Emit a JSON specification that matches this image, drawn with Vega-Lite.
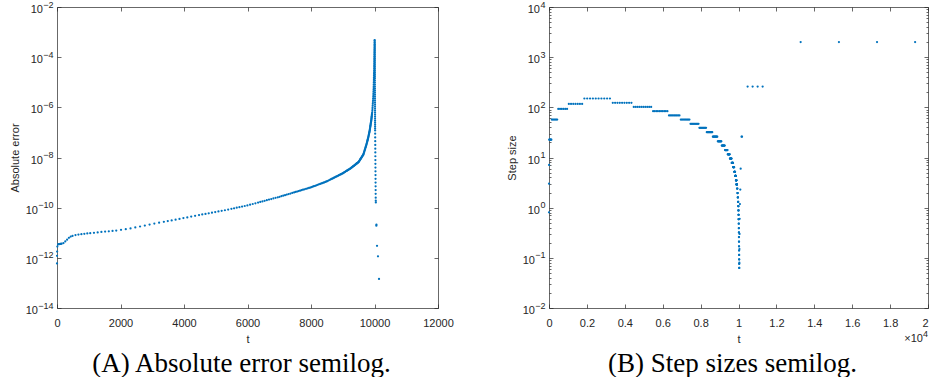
{
"$schema":"https://vega.github.io/schema/vega-lite/v6.json",
"padding":{"left":9,"top":0,"right":0,"bottom":0},
"spacing":111,
"bounds":"flush",
"config":{
 "view":{"stroke":null},
 "axis":{"labelFont":"Liberation Sans","labelFontSize":11,"labelColor":"#262626","labelFlush":false,"labelOverlap":false,"titleFont":"Liberation Sans","titleFontSize":11,"titleFontWeight":"normal","titleColor":"#262626","domainColor":"#262626","domainWidth":0.7,"tickColor":"#262626","tickWidth":0.7,"tickSize":-4,"grid":false,"labelPadding":8}
},
"datasets":{"sim":[
{"t":0,"h":0.81,"e":6.0e-13},{"t":0.81,"h":3.0,"e":1.2e-12},{"t":3.8,"h":7.1,"e":1.78e-12},{"t":10.9,"h":22.7,"e":2.8e-12},{"t":33.6,"h":22.7,"e":3.47e-12},{"t":56.3,"h":22.7,"e":3.5e-12},{"t":79,"h":22.7,"e":3.55e-12},{"t":101.7,"h":22.7,"e":3.57e-12},{"t":124.4,"h":22.7,"e":3.61e-12},
{"t":147,"h":57,"e":3.65e-12},{"t":204,"h":57,"e":3.86e-12},{"t":261,"h":57,"e":4.5e-12},{"t":318,"h":57,"e":5.32e-12},{"t":375,"h":57,"e":6.25e-12},{"t":432,"h":57,"e":7.08e-12},
{"t":489,"h":93,"e":7.48e-12},{"t":582,"h":93,"e":8.09e-12},{"t":675,"h":93,"e":8.49e-12},{"t":768,"h":93,"e":8.77e-12},{"t":861,"h":93,"e":9.08e-12},{"t":954,"h":93,"e":9.35e-12},
{"t":1047,"h":117,"e":9.62e-12},{"t":1164,"h":117,"e":9.95e-12},{"t":1281,"h":117,"e":1.033e-11},{"t":1398,"h":117,"e":1.072e-11},{"t":1515,"h":117,"e":1.11e-11},{"t":1632,"h":117,"e":1.146e-11},{"t":1749,"h":117,"e":1.18e-11},
{"t":1866,"h":150,"e":1.227e-11},{"t":2016,"h":150,"e":1.306e-11},{"t":2166,"h":150,"e":1.39e-11},{"t":2316,"h":150,"e":1.493e-11},{"t":2466,"h":150,"e":1.63e-11},{"t":2616,"h":150,"e":1.775e-11},{"t":2766,"h":150,"e":1.936e-11},{"t":2916,"h":150,"e":2.118e-11},{"t":3066,"h":150,"e":2.317e-11},{"t":3216,"h":150,"e":2.523e-11},
{"t":3366,"h":123,"e":2.73e-11},{"t":3489,"h":123,"e":2.917e-11},{"t":3612,"h":123,"e":3.11e-11},{"t":3735,"h":123,"e":3.327e-11},{"t":3858,"h":123,"e":3.565e-11},{"t":3981,"h":123,"e":3.83e-11},{"t":4104,"h":123,"e":4.1e-11},{"t":4227,"h":123,"e":4.395e-11},{"t":4350,"h":123,"e":4.71e-11},
{"t":4473,"h":102,"e":5.05e-11},{"t":4575,"h":102,"e":5.35e-11},{"t":4677,"h":102,"e":5.65e-11},{"t":4779,"h":102,"e":5.97e-11},{"t":4881,"h":102,"e":6.31e-11},{"t":4983,"h":102,"e":6.68e-11},{"t":5085,"h":102,"e":7.06e-11},{"t":5187,"h":102,"e":7.46e-11},{"t":5289,"h":102,"e":7.89e-11},{"t":5391,"h":102,"e":8.41e-11},
{"t":5493,"h":84,"e":8.96e-11},{"t":5577,"h":84,"e":9.44e-11},{"t":5661,"h":84,"e":9.95e-11},{"t":5745,"h":84,"e":1.049e-10},{"t":5829,"h":84,"e":1.106e-10},{"t":5913,"h":84,"e":1.165e-10},{"t":5997,"h":84,"e":1.227e-10},{"t":6081,"h":84,"e":1.312e-10},{"t":6165,"h":84,"e":1.4e-10},{"t":6249,"h":84,"e":1.496e-10},
{"t":6333,"h":69,"e":1.596e-10},{"t":6402,"h":69,"e":1.686e-10},{"t":6471,"h":69,"e":1.778e-10},{"t":6540,"h":69,"e":1.879e-10},{"t":6609,"h":69,"e":1.982e-10},{"t":6678,"h":69,"e":2.094e-10},{"t":6747,"h":69,"e":2.208e-10},{"t":6816,"h":69,"e":2.33e-10},{"t":6885,"h":69,"e":2.46e-10},
{"t":6954,"h":57,"e":2.594e-10},{"t":7011,"h":57,"e":2.716e-10},{"t":7068,"h":57,"e":2.858e-10},{"t":7125,"h":57,"e":3.0e-10},{"t":7182,"h":57,"e":3.155e-10},{"t":7239,"h":57,"e":3.32e-10},{"t":7296,"h":57,"e":3.48e-10},{"t":7353,"h":57,"e":3.66e-10},{"t":7410,"h":57,"e":3.85e-10},
{"t":7467,"h":47,"e":4.05e-10},{"t":7514,"h":47,"e":4.22e-10},{"t":7561,"h":47,"e":4.4e-10},{"t":7608,"h":47,"e":4.58e-10},{"t":7655,"h":47,"e":4.77e-10},{"t":7702,"h":47,"e":4.98e-10},{"t":7749,"h":47,"e":5.19e-10},{"t":7796,"h":47,"e":5.4e-10},{"t":7843,"h":47,"e":5.62e-10},{"t":7890,"h":47,"e":5.86e-10},
{"t":7937,"h":39,"e":6.11e-10},{"t":7976,"h":39,"e":6.32e-10},{"t":8015,"h":39,"e":6.56e-10},{"t":8054,"h":39,"e":6.85e-10},{"t":8093,"h":39,"e":7.16e-10},{"t":8132,"h":39,"e":7.47e-10},{"t":8171,"h":39,"e":7.8e-10},{"t":8210,"h":39,"e":8.15e-10},{"t":8249,"h":39,"e":8.51e-10},{"t":8288,"h":39,"e":8.87e-10},
{"t":8327,"h":32,"e":9.27e-10},{"t":8359,"h":32,"e":9.6e-10},{"t":8391,"h":32,"e":9.95e-10},{"t":8423,"h":32,"e":1.03e-9},{"t":8455,"h":32,"e":1.067e-9},{"t":8487,"h":32,"e":1.107e-9},{"t":8519,"h":32,"e":1.153e-9},{"t":8551,"h":32,"e":1.21e-9},{"t":8583,"h":32,"e":1.268e-9},{"t":8615,"h":32,"e":1.33e-9},
{"t":8647,"h":26,"e":1.393e-9},{"t":8673,"h":26,"e":1.449e-9},{"t":8699,"h":26,"e":1.504e-9},{"t":8725,"h":26,"e":1.563e-9},{"t":8751,"h":26,"e":1.625e-9},{"t":8777,"h":26,"e":1.687e-9},{"t":8803,"h":26,"e":1.754e-9},{"t":8829,"h":26,"e":1.824e-9},{"t":8855,"h":26,"e":1.892e-9},{"t":8881,"h":26,"e":1.968e-9},
{"t":8907,"h":21,"e":2.042e-9},{"t":8928,"h":21,"e":2.109e-9},{"t":8949,"h":21,"e":2.173e-9},{"t":8970,"h":21,"e":2.244e-9},{"t":8991,"h":21,"e":2.312e-9},{"t":9012,"h":21,"e":2.4e-9},{"t":9033,"h":21,"e":2.49e-9},{"t":9054,"h":21,"e":2.59e-9},{"t":9075,"h":21,"e":2.69e-9},{"t":9096,"h":21,"e":2.8e-9},
{"t":9117,"h":17.3,"e":2.91e-9},{"t":9134,"h":17.3,"e":3.0e-9},{"t":9151,"h":17.3,"e":3.1e-9},{"t":9169,"h":17.3,"e":3.2e-9},{"t":9186,"h":17.3,"e":3.3e-9},{"t":9203,"h":17.3,"e":3.4e-9},{"t":9221,"h":17.3,"e":3.52e-9},{"t":9238,"h":17.3,"e":3.63e-9},{"t":9255,"h":17.3,"e":3.76e-9},{"t":9273,"h":17.3,"e":3.92e-9},
{"t":9290,"h":14.1,"e":4.07e-9},{"t":9304,"h":14.1,"e":4.21e-9},{"t":9318,"h":14.1,"e":4.35e-9},{"t":9332,"h":14.1,"e":4.49e-9},{"t":9346,"h":14.1,"e":4.63e-9},{"t":9360,"h":14.1,"e":4.79e-9},{"t":9375,"h":14.1,"e":4.95e-9},{"t":9389,"h":14.1,"e":5.12e-9},{"t":9403,"h":14.1,"e":5.28e-9},{"t":9417,"h":14.1,"e":5.46e-9},
{"t":9431,"h":11.6,"e":5.64e-9},{"t":9443,"h":11.6,"e":5.79e-9},{"t":9454,"h":11.6,"e":5.94e-9},{"t":9466,"h":11.6,"e":6.11e-9},{"t":9477,"h":11.6,"e":6.27e-9},{"t":9489,"h":11.6,"e":6.44e-9},{"t":9501,"h":11.6,"e":6.64e-9},{"t":9512,"h":11.6,"e":6.98e-9},{"t":9524,"h":11.6,"e":7.38e-9},{"t":9535,"h":11.6,"e":7.76e-9},
{"t":9547,"h":9.5,"e":8.2e-9},{"t":9556,"h":9.5,"e":8.55e-9},{"t":9566,"h":9.5,"e":8.95e-9},{"t":9575,"h":9.5,"e":9.33e-9},{"t":9585,"h":9.5,"e":9.77e-9},{"t":9594,"h":9.5,"e":1.019e-8},{"t":9604,"h":9.5,"e":1.067e-8},{"t":9613,"h":9.5,"e":1.112e-8},{"t":9623,"h":9.5,"e":1.164e-8},{"t":9632,"h":9.5,"e":1.213e-8},
{"t":9642,"h":7.8,"e":1.27e-8},{"t":9650,"h":7.8,"e":1.318e-8},{"t":9657,"h":7.8,"e":1.41e-8},{"t":9665,"h":7.8,"e":1.517e-8},{"t":9673,"h":7.8,"e":1.637e-8},{"t":9681,"h":7.8,"e":1.766e-8},{"t":9689,"h":7.8,"e":1.905e-8},{"t":9696,"h":7.8,"e":2.03e-8},{"t":9704,"h":7.8,"e":2.19e-8},{"t":9712,"h":7.8,"e":2.37e-8},
{"t":9720,"h":6.4,"e":2.55e-8},{"t":9726,"h":6.4,"e":2.7e-8},{"t":9733,"h":6.4,"e":2.88e-8},{"t":9739,"h":6.4,"e":3.05e-8},{"t":9746,"h":6.4,"e":3.27e-8},{"t":9752,"h":6.4,"e":3.5e-8},{"t":9758,"h":6.4,"e":3.75e-8},{"t":9765,"h":6.4,"e":4.06e-8},{"t":9771,"h":6.4,"e":4.35e-8},
{"t":9778,"h":5.2,"e":4.7e-8},{"t":9783,"h":5.2,"e":4.98e-8},{"t":9788,"h":5.2,"e":5.26e-8},{"t":9794,"h":5.2,"e":5.64e-8},{"t":9799,"h":5.2,"e":5.96e-8},{"t":9804,"h":5.2,"e":6.37e-8},{"t":9809,"h":5.2,"e":6.83e-8},{"t":9814,"h":5.2,"e":7.32e-8},{"t":9820,"h":5.2,"e":7.96e-8},
{"t":9825,"h":4.3,"e":8.53e-8},{"t":9829,"h":4.3,"e":9.02e-8},{"t":9834,"h":4.3,"e":9.66e-8},{"t":9838,"h":4.3,"e":1.023e-7},{"t":9842,"h":4.3,"e":1.081e-7},{"t":9847,"h":4.3,"e":1.159e-7},{"t":9851,"h":4.3,"e":1.245e-7},{"t":9855,"h":4.3,"e":1.343e-7},{"t":9859,"h":4.3,"e":1.449e-7},
{"t":9864,"h":3.5,"e":1.592e-7},{"t":9867,"h":3.5,"e":1.687e-7},{"t":9871,"h":3.5,"e":1.82e-7},{"t":9874,"h":3.5,"e":1.928e-7},{"t":9878,"h":3.5,"e":2.08e-7},{"t":9881,"h":3.5,"e":2.2e-7},{"t":9885,"h":3.5,"e":2.38e-7},{"t":9888,"h":3.5,"e":2.52e-7},{"t":9892,"h":3.5,"e":2.72e-7},
{"t":9895,"h":2.9,"e":2.88e-7},{"t":9898,"h":2.9,"e":3.04e-7},{"t":9901,"h":2.9,"e":3.24e-7},{"t":9904,"h":2.9,"e":3.51e-7},{"t":9907,"h":2.9,"e":3.79e-7},{"t":9910,"h":2.9,"e":4.09e-7},{"t":9912,"h":2.9,"e":4.31e-7},{"t":9915,"h":2.9,"e":4.67e-7},{"t":9918,"h":2.9,"e":5.04e-7},
{"t":9921,"h":2.4},{"t":9932,"h":2.4},{"t":9942,"h":2.4},{"t":9943,"h":1.95},{"t":9951,"h":1.95},{"t":9959,"h":1.95},{"t":9961,"h":1.6},{"t":9967,"h":1.6},{"t":9973,"h":1.6},{"t":9975,"h":1.3},{"t":9980,"h":1.3},{"t":9985,"h":1.3},{"t":9986,"h":1.07},{"t":9990,"h":1.07},{"t":9994,"h":1.07},{"t":9995,"h":0.88},{"t":9998,"h":0.88},{"t":10002,"h":0.88},{"t":10003,"h":0.72},{"t":10005,"h":0.72},{"t":10008,"h":0.72},{"t":10009,"h":0.59},{"t":10011,"h":0.59},{"t":10013,"h":0.59},{"t":10014,"h":0.48},{"t":10016,"h":0.48},{"t":10018,"h":0.39},{"t":10020,"h":0.39},{"t":10022,"h":0.32},{"t":10023,"h":0.32},{"t":10024,"h":0.26},{"t":10025,"h":0.26},{"t":10026,"h":0.21},{"t":10027,"h":0.21},{"t":10028,"h":0.17},{"t":10029,"h":0.17},{"t":10030,"h":0.14},{"t":10031,"h":0.14},{"t":10032,"h":0.114},{"t":10033,"h":0.114},{"t":10034,"h":0.093},{"t":10035,"h":0.093},{"t":10036,"h":0.076},{"t":10037,"h":0.076},{"t":10038,"h":0.063},{"t":10039,"h":0.063},
{"t":10045,"h":0.08},{"t":10050,"h":0.15},{"t":10055,"h":0.3},{"t":10062,"h":0.6},{"t":10075,"h":1.18},{"t":10095,"h":2.3},{"t":10115,"h":6.0},{"t":10160,"h":26},{"t":10186,"h":26},
{"t":10481,"h":260},{"t":10745,"h":260},{"t":11010,"h":260},{"t":11274,"h":260},
{"t":13280,"h":2000},{"t":15300,"h":2000},{"t":17310,"h":2000},{"t":19320,"h":2000},
{"t":9921,"e":5.45e-7},{"t":9926,"e":6.19e-7},{"t":9932,"e":7.24e-7},{"t":9935.6,"e":8.51e-7},{"t":9939.3,"e":1.0e-6},{"t":9942.9,"e":1.175e-6},{"t":9946.5,"e":1.38e-6},{"t":9950.1,"e":1.622e-6},{"t":9953.8,"e":1.905e-6},{"t":9957.4,"e":2.239e-6},{"t":9960.7,"e":2.63e-6},{"t":9963.2,"e":3.09e-6},{"t":9965.6,"e":3.63e-6},{"t":9968.1,"e":4.27e-6},{"t":9970.5,"e":5.01e-6},{"t":9973,"e":5.89e-6},{"t":9974.9,"e":6.92e-6},{"t":9976.5,"e":8.13e-6},{"t":9978.1,"e":9.55e-6},{"t":9979.7,"e":1.122e-5},{"t":9981.3,"e":1.318e-5},{"t":9982.9,"e":1.549e-5},{"t":9984.5,"e":1.82e-5},{"t":9986.1,"e":2.138e-5},{"t":9987.7,"e":2.512e-5},{"t":9989.3,"e":2.951e-5},{"t":9990.5,"e":3.467e-5},{"t":9991.4,"e":4.07e-5},{"t":9992.3,"e":4.79e-5},{"t":9993.1,"e":5.62e-5},{"t":9994,"e":6.61e-5},{"t":9994.9,"e":7.76e-5},{"t":9995.8,"e":9.12e-5},{"t":9996.6,"e":1.072e-4},{"t":9997.5,"e":1.259e-4},{"t":9998.4,"e":1.479e-4},{"t":9999.3,"e":1.738e-4},{"t":10000.1,"e":2.04e-4},{"t":10001,"e":2.4e-4},{"t":10002,"e":2.82e-4},{"t":10002.9,"e":3.31e-4},{"t":10003.8,"e":3.89e-4},{"t":10004.7,"e":4.57e-4},{"t":10005,"e":4.79e-4},
{"t":10008,"e":3.98e-4},{"t":10008.3,"e":3.31e-4},{"t":10008.5,"e":2.75e-4},{"t":10008.8,"e":2.29e-4},{"t":10009.1,"e":1.905e-4},{"t":10009.4,"e":1.585e-4},{"t":10009.6,"e":1.318e-4},{"t":10009.9,"e":1.096e-4},{"t":10010.2,"e":9.12e-5},{"t":10010.4,"e":7.59e-5},{"t":10010.7,"e":6.31e-5},{"t":10011,"e":5.25e-5},{"t":10011.2,"e":4.37e-5},{"t":10011.5,"e":3.63e-5},{"t":10011.8,"e":3.02e-5},{"t":10012.1,"e":2.51e-5},{"t":10012.3,"e":2.09e-5},{"t":10012.6,"e":1.74e-5},{"t":10012.9,"e":1.445e-5},{"t":10013.1,"e":1.202e-5},{"t":10013.4,"e":1.0e-5},{"t":10013.7,"e":8.32e-6},{"t":10013.9,"e":6.92e-6},{"t":10014.2,"e":5.75e-6},{"t":10014.5,"e":4.79e-6},{"t":10014.8,"e":3.98e-6},{"t":10015,"e":3.31e-6},{"t":10015.3,"e":2.75e-6},{"t":10015.6,"e":2.29e-6},{"t":10015.8,"e":1.905e-6},{"t":10016.1,"e":1.585e-6},{"t":10016.4,"e":1.318e-6},{"t":10016.6,"e":1.096e-6},{"t":10016.9,"e":9.12e-7},{"t":10017.2,"e":7.59e-7},{"t":10017.5,"e":6.31e-7},{"t":10017.7,"e":5.25e-7},{"t":10018,"e":4.37e-7},{"t":10018.3,"e":3.63e-7},{"t":10018.5,"e":3.02e-7},{"t":10018.8,"e":2.51e-7},{"t":10019.1,"e":2.09e-7},{"t":10019.3,"e":1.74e-7},{"t":10019.6,"e":1.445e-7},{"t":10019.9,"e":1.202e-7},
{"t":10021,"e":8.91e-8},{"t":10022,"e":6.31e-8},{"t":10023,"e":4.47e-8},{"t":10024,"e":3.16e-8},{"t":10025,"e":2.24e-8},{"t":10026,"e":1.585e-8},{"t":10027,"e":1.122e-8},{"t":10028,"e":7.94e-9},{"t":10029,"e":5.62e-9},{"t":10030,"e":3.98e-9},{"t":10031,"e":2.82e-9},{"t":10032,"e":2.0e-9},{"t":10033,"e":1.41e-9},{"t":10034,"e":1.0e-9},{"t":10035,"e":7.08e-10},{"t":10036,"e":5.01e-10},{"t":10037,"e":3.55e-10},{"t":10038,"e":2.51e-10},{"t":10040,"e":1.905e-10},{"t":10042,"e":1.62e-10},
{"t":10058,"e":1.905e-11},{"t":10061,"e":2.09e-11},{"t":10079,"e":3.02e-12},{"t":10110,"e":1.148e-12},{"t":10142,"e":1.445e-13}
]},
"hconcat":[
 {
  "width":381,"height":301,
  "data":{"name":"sim"},
  "transform":[{"filter":"isValid(datum.e)"}],
  "title":{"text":"(A) Absolute error semilog.","orient":"bottom","frame":"group","anchor":"middle","font":"Liberation Serif","fontSize":27,"fontWeight":"normal","color":"#000000","offset":7,"dx":-6},
  "layer":[
   {"mark":{"type":"circle","size":5,"opacity":1,"color":"#0072BD"},
    "encoding":{
     "x":{"field":"t","type":"quantitative","scale":{"domain":[0,12000],"nice":false,"zero":false},
          "axis":{"orient":"bottom","values":[0,2000,4000,6000,8000,10000,12000],"format":"d","labelPadding":13,"title":"t","titlePadding":5}},
     "y":{"field":"e","type":"quantitative","scale":{"type":"log","domain":[1e-14,1e-2],"nice":false},
          "axis":{"orient":"left","values":[1e-14,1e-12,1e-10,1e-8,1e-6,1e-4,1e-2],"title":"Absolute error","titlePadding":5,"labelExpr":"'10'","labelOffset":2.5,
                  "labelPadding":{"condition":{"test":"datum.value < 1e-9","value":23.5},"value":18.5}}}
    }},
   {"mark":{"type":"circle","size":5,"opacity":0},
    "encoding":{
     "x":{"field":"t","type":"quantitative","scale":{"domain":[0,12000],"nice":false,"zero":false},
          "axis":{"orient":"top","values":[0,2000,4000,6000,8000,10000,12000],"labels":false,"title":null}},
     "y":{"field":"e","type":"quantitative","scale":{"type":"log","domain":[1e-14,1e-2],"nice":false},
          "axis":{"orient":"right","values":[1e-14,1e-12,1e-10,1e-8,1e-6,1e-4,1e-2],"labels":false,"title":null}}
    }},
   {"mark":{"type":"circle","size":5,"opacity":0},
    "encoding":{
     "x":{"field":"t","type":"quantitative","scale":{"domain":[0,12000],"nice":false,"zero":false},"axis":null},
     "y":{"field":"e","type":"quantitative","scale":{"type":"log","domain":[1e-14,1e-2],"nice":false},
          "axis":{"orient":"left","values":[1e-14,1e-12,1e-10,1e-8,1e-6,1e-4,1e-2],"title":null,"domain":false,"tickSize":0,"tickOpacity":0,"labelPadding":4,"labelFontSize":9,"labelOffset":-3,
                  "labelExpr":"replace('' + round(log(datum.value)/LN10),'-','−')"}}
    }}
  ],
  "resolve":{"axis":{"x":"independent","y":"independent"}}
 },
 {
  "width":379,"height":301,
  "data":{"name":"sim"},
  "transform":[{"filter":"isValid(datum.h)"}],
  "title":{"text":"(B) Step sizes semilog.","orient":"bottom","frame":"group","anchor":"middle","font":"Liberation Serif","fontSize":27,"fontWeight":"normal","color":"#000000","offset":7,"dx":-6},
  "layer":[
   {"mark":{"type":"circle","size":5,"opacity":1,"color":"#0072BD"},
    "encoding":{
     "x":{"field":"t","type":"quantitative","scale":{"domain":[0,20000],"nice":false,"zero":false},
          "axis":{"orient":"bottom","values":[0,2000,4000,6000,8000,10000,12000,14000,16000,18000,20000],"labelExpr":"'' + (datum.value/10000)","labelPadding":13,"labelAlign":{"condition":{"test":"datum.value >= 20000","value":"right"},"value":"center"},"title":"t","titlePadding":5}},
     "y":{"field":"h","type":"quantitative","scale":{"type":"log","domain":[1e-2,1e4],"nice":false},
          "axis":{"orient":"left","values":[1e-2,1e-1,1,10,100,1000,10000],"title":"Step size","titlePadding":5,"labelExpr":"'10'","labelOffset":2.5,
                  "labelPadding":{"condition":{"test":"datum.value < 0.5","value":18.5},"value":13.5}}}
    }},
   {"mark":{"type":"circle","size":5,"opacity":0},
    "encoding":{
     "x":{"field":"t","type":"quantitative","scale":{"domain":[0,20000],"nice":false,"zero":false},
          "axis":{"orient":"top","values":[0,2000,4000,6000,8000,10000,12000,14000,16000,18000,20000],"labels":false,"title":null}},
     "y":{"field":"h","type":"quantitative","scale":{"type":"log","domain":[1e-2,1e4],"nice":false},
          "axis":{"orient":"right","values":[1e-2,1e-1,1,10,100,1000,10000],"labels":false,"title":null}}
    }},
   {"mark":{"type":"circle","size":5,"opacity":0},
    "encoding":{
     "x":{"field":"t","type":"quantitative","scale":{"domain":[0,20000],"nice":false,"zero":false},"axis":null},
     "y":{"field":"h","type":"quantitative","scale":{"type":"log","domain":[1e-2,1e4],"nice":false},
          "axis":{"orient":"left","values":[1e-2,1e-1,1,10,100,1000,10000],"title":null,"domain":false,"tickSize":0,"tickOpacity":0,"labelPadding":4,"labelFontSize":9,"labelOffset":-3,
                  "labelExpr":"replace('' + round(log(datum.value)/LN10),'-','−')"}}
    }},
   {"mark":{"type":"circle","size":5,"opacity":0},
    "encoding":{
     "x":{"field":"t","type":"quantitative","scale":{"domain":[0,20000],"nice":false,"zero":false},"axis":null},
     "y":{"field":"h","type":"quantitative","scale":{"type":"log","domain":[1e-2,1e4],"nice":false},
          "axis":{"orient":"left","values":[0.02,0.03,0.04,0.05,0.06,0.07,0.08,0.09,0.2,0.3,0.4,0.5,0.6,0.7,0.8,0.9,2,3,4,5,6,7,8,9,20,30,40,50,60,70,80,90,200,300,400,500,600,700,800,900,2000,3000,4000,5000,6000,7000,8000,9000],"labels":false,"domain":false,"tickSize":-2,"title":null}}
    }},
   {"mark":{"type":"circle","size":5,"opacity":0},
    "encoding":{
     "x":{"field":"t","type":"quantitative","scale":{"domain":[0,20000],"nice":false,"zero":false},"axis":null},
     "y":{"field":"h","type":"quantitative","scale":{"type":"log","domain":[1e-2,1e4],"nice":false},
          "axis":{"orient":"right","values":[0.02,0.03,0.04,0.05,0.06,0.07,0.08,0.09,0.2,0.3,0.4,0.5,0.6,0.7,0.8,0.9,2,3,4,5,6,7,8,9,20,30,40,50,60,70,80,90,200,300,400,500,600,700,800,900,2000,3000,4000,5000,6000,7000,8000,9000],"labels":false,"domain":false,"tickSize":-2,"title":null}}
    }},
   {"data":{"values":[{"label":"×10"}]},
    "transform":[],
    "mark":{"type":"text","align":"right","baseline":"middle","dx":-5,"dy":31,"font":"Liberation Sans","fontSize":11,"color":"#262626"},
    "encoding":{
     "text":{"field":"label"},
     "x":{"datum":20000,"type":"quantitative","scale":{"domain":[0,20000],"nice":false,"zero":false},"axis":null},
     "y":{"datum":0.01,"type":"quantitative","scale":{"type":"log","domain":[1e-2,1e4],"nice":false},"axis":null}
    }},
   {"data":{"values":[{"label":"4"}]},
    "transform":[],
    "mark":{"type":"text","align":"right","baseline":"middle","dx":0,"dy":25.5,"font":"Liberation Sans","fontSize":9,"color":"#262626"},
    "encoding":{
     "text":{"field":"label"},
     "x":{"datum":20000,"type":"quantitative","scale":{"domain":[0,20000],"nice":false,"zero":false},"axis":null},
     "y":{"datum":0.01,"type":"quantitative","scale":{"type":"log","domain":[1e-2,1e4],"nice":false},"axis":null}
    }}
  ],
  "resolve":{"axis":{"x":"independent","y":"independent"}}
 }
]
}
